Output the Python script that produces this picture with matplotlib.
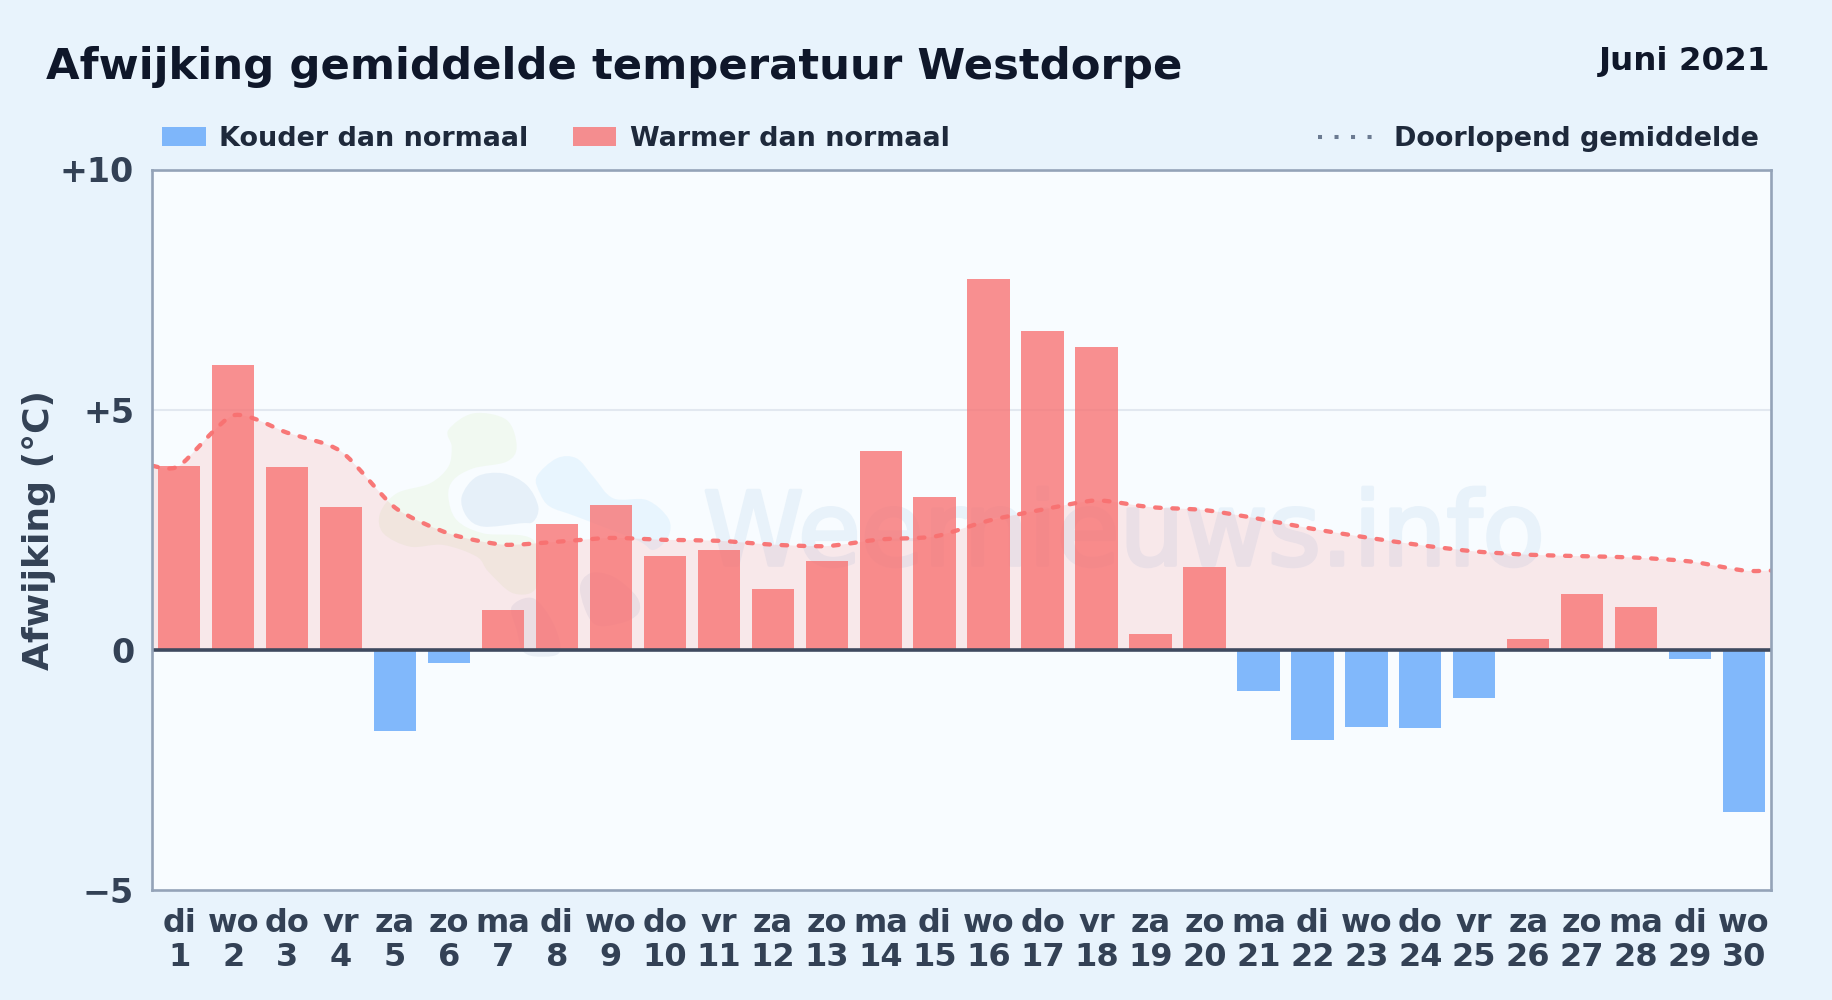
import numpy as np
import matplotlib
matplotlib.use("Agg")
import matplotlib.pyplot as plt
import matplotlib.patheffects as pe
from matplotlib.path import Path
from matplotlib.patches import PathPatch, Rectangle
from matplotlib.lines import Line2D
from matplotlib.transforms import Affine2D

plt.rcParams['font.family'] = ['DejaVu Sans']

# ---- data ----
days = list(range(1, 31))
weekdays = ['di', 'wo', 'do', 'vr', 'za', 'zo', 'ma', 'di', 'wo', 'do', 'vr', 'za', 'zo', 'ma', 'di',
            'wo', 'do', 'vr', 'za', 'zo', 'ma', 'di', 'wo', 'do', 'vr', 'za', 'zo', 'ma', 'di', 'wo']
deviation = [3.83, 5.94, 3.80, 2.97, -1.70, -0.27, 0.83, 2.63, 3.02, 1.95,
             2.07, 1.27, 1.85, 4.14, 3.19, 7.71, 6.64, 6.30, 0.34, 1.73,
             -0.85, -1.87, -1.61, -1.63, -1.00, 0.22, 1.17, 0.90, -0.20, -3.38]
running_mean = [3.83, 4.88, 4.52, 4.13, 2.96, 2.42, 2.19, 2.25, 2.33, 2.29,
                2.27, 2.19, 2.16, 2.30, 2.36, 2.69, 2.92, 3.11, 2.97, 2.91,
                2.73, 2.52, 2.34, 2.18, 2.05, 1.98, 1.95, 1.92, 1.84, 1.65]
y_ticks = [-5, 0, 5, 10]
y_tick_labels = ['\u22125', '0', '+5', '+10']

W, H = 1832, 1000
BG, PANEL = '#e8f3fc', '#f8fcff'
RED, BLUE = '#f87171', '#60a5fa'

fig = plt.figure(figsize=(W / 100, H / 100), dpi=100, facecolor=BG)
L, R, T, B = 152.3, 1771, 169.5, 890
ax = fig.add_axes([L / W, 1 - B / H, (R - L) / W, (B - T) / H], facecolor=PANEL)
ax.set_xlim(0.5, 30.5)
ax.set_ylim(-5, 10)

px = Affine2D().scale(1, -1).translate(0, H)  # reference pixels -> display


def blob(points, color, alpha):
    """Closed smooth watermark shape, outline given in zoomed logo coordinates."""
    p = np.array(points, float) / 3 + [360, 390]
    n = len(p)
    verts, codes = [p[0]], [Path.MOVETO]
    for i in range(n):
        a, b, c, d = p[i - 1], p[i], p[(i + 1) % n], p[(i + 2) % n]
        verts += [b + (c - a) / 6, c - (d - b) / 6, c]
        codes += [Path.CURVE4] * 3
    ax.add_patch(PathPatch(Path(verts, codes), fc=color, ec='none', alpha=alpha,
                           transform=px, zorder=1, clip_on=True))


blob([(265, 120), (340, 70), (440, 90), (470, 170), (440, 215), (340, 235), (280, 270), (265, 320),
      (290, 390), (370, 430), (520, 450), (530, 590), (460, 610), (385, 545), (350, 500), (250, 465),
      (150, 470), (70, 430), (60, 370), (110, 310), (210, 280), (265, 230), (275, 170)], '#b5e07a', 0.10)
blob([(305, 320), (350, 260), (430, 250), (500, 285), (535, 350), (520, 395), (480, 400), (370, 410),
      (320, 380)], '#3b82c4', 0.09)
blob([(530, 260), (590, 205), (650, 205), (700, 260), (760, 325), (860, 330), (925, 385), (925, 440),
      (880, 480), (830, 450), (650, 380), (570, 350), (540, 310)], '#7cc8f8', 0.12)
blob([(455, 650), (520, 625), (580, 700), (600, 785), (540, 800), (490, 785), (470, 720)], '#6b7fa8', 0.10)
blob([(660, 600), (690, 550), (760, 560), (830, 620), (835, 670), (780, 700), (700, 700)], '#6b7fa8', 0.10)
ax.text(703, 565, 'Weernieuws.info', transform=px, fontsize=73.5, color='#e8f2fa',
        ha='left', va='baseline', zorder=1,
        path_effects=[pe.withStroke(linewidth=2.6, foreground='#e8f2fa')])

# smooth curve through the running mean, reaching both edges of the panel
lx = np.array([0.5] + days + [30.5], float)
ly = np.array([running_mean[0]] + running_mean + [running_mean[-1]], float)
k = 0.12
verts, codes = [(lx[0], ly[0])], [Path.MOVETO]
for i in range(len(lx) - 1):
    i0, i3 = max(i - 1, 0), min(i + 2, len(lx) - 1)
    verts += [(lx[i] + (lx[i + 1] - lx[i0]) * k, ly[i] + (ly[i + 1] - ly[i0]) * k),
              (lx[i + 1] - (lx[i3] - lx[i]) * k, ly[i + 1] - (ly[i3] - ly[i]) * k),
              (lx[i + 1], ly[i + 1])]
    codes += [Path.CURVE4] * 3
area = Path(verts + [(lx[-1], 0), (lx[0], 0), verts[0]], codes + [Path.LINETO, Path.LINETO, Path.LINETO])
ax.add_patch(PathPatch(area, fc=RED, ec='none', alpha=0.14, zorder=2))

ax.bar(days, deviation, width=0.785, color=[RED if v >= 0 else BLUE for v in deviation],
       alpha=0.78, linewidth=0, zorder=3)

ax.axhline(5, color='#e2e8f0', lw=1.5, zorder=0.5)
ax.axhline(0, color='#3f4a5f', lw=2.6, zorder=4)

line = PathPatch(Path(verts, codes), fc='none', ec=RED, lw=3.1, alpha=0.95, zorder=5,
                 capstyle='round', linestyle=(0, (1.3, 2.7)))
ax.add_patch(line)

for s in ax.spines.values():
    s.set_color('#94a3b8')
    s.set_linewidth(1.9)
    s.set_zorder(6)

ax.set_yticks(y_ticks, y_tick_labels)
ax.set_xticks(days, [f'{w}\n{d}' for w, d in zip(weekdays, days)])
ax.tick_params(axis='both', length=0, labelcolor='#334155')
ax.tick_params(axis='y', pad=13, labelsize=24)
ax.tick_params(axis='x', pad=13, labelsize=23)
for lab in ax.get_xticklabels() + ax.get_yticklabels():
    lab.set_fontweight('bold')
for lab in ax.get_xticklabels():
    lab.set_linespacing(1.13)

fig.text(39.5 / W, 1 - 530 / H, 'Afwijking (°C)', rotation=90, ha='center', va='center',
         fontsize=26, fontweight='bold', color='#334155')
fig.text(46 / W, 1 - 79 / H, 'Afwijking gemiddelde temperatuur Westdorpe', fontsize=31.25,
         fontweight='bold', color='#0f172a', ha='left', va='baseline')
fig.text(1770 / W, 1 - 70 / H, 'Juni 2021', fontsize=23.4, fontweight='bold', color='#0f172a',
         ha='right', va='baseline')


def swatch(x0, x1, color):
    fig.add_artist(Rectangle((x0 / W, 1 - 146 / H), (x1 - x0) / W, 19 / H, transform=fig.transFigure,
                             fc=color, ec='none', alpha=0.78))


def legend_text(x, s):
    fig.text(x / W, 1 - 146 / H, s, fontsize=19.45, fontweight='bold', color='#1e293b', ha='left', va='baseline')


swatch(162, 206, BLUE)
legend_text(219, 'Kouder dan normaal')
swatch(572.5, 616, RED)
legend_text(630, 'Warmer dan normaal')
fig.add_artist(Line2D([1318 / W, 1373 / W], [1 - 137 / H, 1 - 137 / H], transform=fig.transFigure,
                      color='#64748b', lw=2.9, linestyle=(0, (1, 3.1)), alpha=0.95))
legend_text(1394.5, 'Doorlopend gemiddelde')

fig.savefig('out.png', dpi=100, facecolor=BG)
